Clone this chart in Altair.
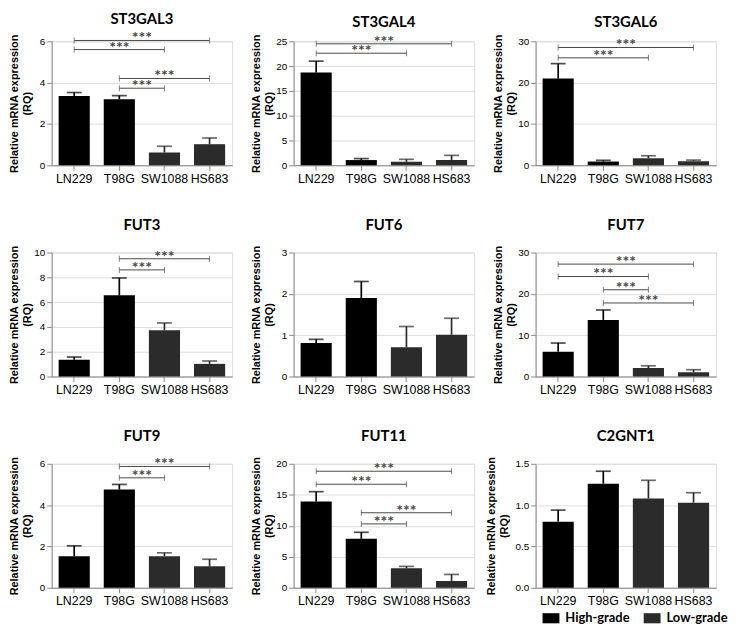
import altair as alt
import pandas as pd

CELL_LINES = ["LN229", "T98G", "SW1088", "HS683"]
GRADES = ["High-grade", "High-grade", "Low-grade", "Low-grade"]
GENES = ["ST3GAL3", "ST3GAL4", "ST3GAL6", "FUT3", "FUT6", "FUT7", "FUT9", "FUT11", "C2GNT1"]

# mean relative expression (RQ) and upper error (SEM) per cell line
ST3GAL3_MEAN = [3.35, 3.2, 0.62, 1.02]
ST3GAL3_ERR = [0.17, 0.17, 0.3, 0.3]
ST3GAL4_MEAN = [18.7, 1.05, 0.7, 1.05]
ST3GAL4_ERR = [2.3, 0.3, 0.5, 0.95]
ST3GAL6_MEAN = [21.0, 0.9, 1.7, 1.0]
ST3GAL6_ERR = [3.6, 0.3, 0.6, 0.25]
FUT3_MEAN = [1.35, 6.55, 3.73, 1.02]
FUT3_ERR = [0.22, 1.4, 0.59, 0.23]
FUT6_MEAN = [0.81, 1.9, 0.71, 1.01]
FUT6_ERR = [0.09, 0.4, 0.5, 0.4]
FUT7_MEAN = [6.0, 13.7, 2.05, 1.05]
FUT7_ERR = [2.1, 2.4, 0.55, 0.6]
FUT9_MEAN = [1.53, 4.75, 1.53, 1.04]
FUT9_ERR = [0.5, 0.25, 0.16, 0.34]
FUT11_MEAN = [13.9, 7.9, 3.15, 1.1]
FUT11_ERR = [1.6, 1.05, 0.3, 1.05]
C2GNT1_MEAN = [0.8, 1.26, 1.08, 1.03]
C2GNT1_ERR = [0.14, 0.15, 0.22, 0.12]

Y_MAX = [6, 25, 30, 10, 3, 30, 6, 20, 1.5]
Y_TICKS = [
    [0, 2, 4, 6],
    [0, 5, 10, 15, 20, 25],
    [0, 10, 20, 30],
    [0, 2, 4, 6, 8, 10],
    [0, 1, 2, 3],
    [0, 10, 20, 30],
    [0, 2, 4, 6],
    [0, 5, 10, 15, 20],
    [0, 0.5, 1.0, 1.5],
]
Y_FORMAT = ["d", "d", "d", "d", "d", "d", "d", "d", ".1f"]

# significance brackets: (from, to, height)
ST3GAL3_SIG = [("LN229", "HS683", 6.04), ("LN229", "SW1088", 5.6), ("T98G", "HS683", 4.2), ("T98G", "SW1088", 3.73)]
ST3GAL4_SIG = [("LN229", "HS683", 24.5), ("LN229", "SW1088", 22.6)]
ST3GAL6_SIG = [("LN229", "HS683", 28.5), ("LN229", "SW1088", 26.0)]
FUT3_SIG = [("T98G", "HS683", 9.5), ("T98G", "SW1088", 8.6)]
FUT6_SIG = []
FUT7_SIG = [("LN229", "HS683", 27.2), ("LN229", "SW1088", 24.2), ("T98G", "SW1088", 21.0), ("T98G", "HS683", 17.8)]
FUT9_SIG = [("T98G", "HS683", 5.87), ("T98G", "SW1088", 5.32)]
FUT11_SIG = [("LN229", "HS683", 18.8), ("LN229", "SW1088", 16.7), ("T98G", "HS683", 12.1), ("T98G", "SW1088", 10.3)]
C2GNT1_SIG = []

MEANS = [ST3GAL3_MEAN, ST3GAL4_MEAN, ST3GAL6_MEAN, FUT3_MEAN, FUT6_MEAN, FUT7_MEAN, FUT9_MEAN, FUT11_MEAN, C2GNT1_MEAN]
ERRS = [ST3GAL3_ERR, ST3GAL4_ERR, ST3GAL6_ERR, FUT3_ERR, FUT6_ERR, FUT7_ERR, FUT9_ERR, FUT11_ERR, C2GNT1_ERR]
SIGS = [ST3GAL3_SIG, ST3GAL4_SIG, ST3GAL6_SIG, FUT3_SIG, FUT6_SIG, FUT7_SIG, FUT9_SIG, FUT11_SIG, C2GNT1_SIG]

FONT = "Lato"
TICK_FONT = "Liberation Sans"
HIGH = "#000000"
LOW = "#2b2b2b"
BR_COLOR = "#4a4a4a"
W, H = 182, 125
RECT = "M-1,-0.6H1V0.6H-1Z"


def panel(i):
    gene = GENES[i]
    df = pd.DataFrame({
        "cell": CELL_LINES,
        "grade": GRADES,
        "mean": MEANS[i],
        "top": [m + e for m, e in zip(MEANS[i], ERRS[i])],
    })
    yscale = alt.Scale(domain=[0, Y_MAX[i]], nice=False, zero=True)
    title_x = -39 if "." in Y_FORMAT[i] else -32
    yaxis = alt.Axis(values=Y_TICKS[i], format=Y_FORMAT[i], titleX=title_x,
                     title=["Relative mRNA expression", "(RQ)"])
    bscale = alt.Scale(paddingInner=0.31, paddingOuter=0.155)
    xband = alt.X("cell:N", sort=CELL_LINES, scale=bscale,
                  axis=alt.Axis(title=None, labelAngle=0, labelFontSize=12.5))
    xband_noaxis = alt.X("cell:N", sort=CELL_LINES, scale=bscale, axis=None)
    show_legend = (i == len(GENES) - 1)
    cscale = alt.Scale(domain=["High-grade", "Low-grade"], range=[HIGH, LOW])
    if show_legend:
        leg = alt.Legend(title=None, orient="none", legendX=7, legendY=147,
                         direction="horizontal", symbolType=RECT,
                         symbolSize=289, symbolStrokeWidth=0, labelFontSize=13,
                         labelFont=FONT, labelFontWeight="bold", columnPadding=14,
                         labelOffset=6, labelColor="black")
    else:
        leg = None
    bars = alt.Chart(df).mark_bar().encode(
        x=xband,
        y=alt.Y("mean:Q", scale=yscale, axis=yaxis),
        color=alt.Color("grade:N", scale=cscale, legend=leg),
    )
    err = alt.Chart(df).mark_rule(strokeWidth=1.7).encode(
        x=xband_noaxis,
        y=alt.Y("mean:Q", scale=yscale, axis=yaxis),
        y2="top:Q",
        color=alt.Color("grade:N", scale=cscale, legend=None),
    )
    cap = alt.Chart(df).mark_tick(size=15, thickness=1.7).encode(
        x=xband_noaxis,
        y=alt.Y("top:Q", scale=yscale, axis=yaxis),
        color=alt.Color("grade:N", scale=cscale, legend=None),
    )
    layers = [bars, err, cap]
    sig = SIGS[i]
    if sig:
        bdf = pd.DataFrame({
            "x1": [CELL_LINES.index(a) + 0.5 for a, b, y in sig],
            "x2": [CELL_LINES.index(b) + 0.5 for a, b, y in sig],
            "y": [y for a, b, y in sig],
        })
        bdf["mid"] = (bdf["x1"] + bdf["x2"]) / 2
        ends = pd.DataFrame({
            "xe": list(bdf["x1"]) + list(bdf["x2"]),
            "y": list(bdf["y"]) + list(bdf["y"]),
        })
        xq = alt.Scale(domain=[0, 4], nice=False, zero=False)
        line = alt.Chart(bdf).mark_rule(color=BR_COLOR, strokeWidth=1).encode(
            x=alt.X("x1:Q", scale=xq, axis=None), x2="x2:Q",
            y=alt.Y("y:Q", scale=yscale, axis=yaxis),
        )
        endt = alt.Chart(ends).mark_tick(orient="vertical", size=6, thickness=1,
                                         color=BR_COLOR).encode(
            x=alt.X("xe:Q", scale=xq, axis=None),
            y=alt.Y("y:Q", scale=yscale, axis=yaxis),
        )
        txt = alt.Chart(bdf).mark_text(text="***", font=FONT, fontSize=16,
                                       fontWeight="bold", color=BR_COLOR,
                                       baseline="alphabetic", dy=3).encode(
            x=alt.X("mid:Q", scale=xq, axis=None),
            y=alt.Y("y:Q", scale=yscale, axis=yaxis),
        )
        layers += [line, endt, txt]
    title_offset = 4 if i < 3 else 12
    ch = alt.layer(*layers).resolve_scale(x="independent").properties(
        width=W, height=H,
        title=alt.TitleParams(gene, font=FONT, fontSize=15, fontWeight="bold",
                              anchor="middle", frame="group", offset=title_offset,
                              color="black"),
    )
    return ch


chart = alt.concat(*[panel(i) for i in range(len(GENES))], columns=3,
                   bounds="flush",
                   spacing={"row": 88, "column": 62}).resolve_scale(
    color="independent"
).configure_axis(
    labelFont=TICK_FONT, labelFontWeight="bold", labelFontSize=12, labelColor="black",
    titleFont=FONT, titleFontWeight="bold", titleFontSize=11.5, titleColor="black",
    titleLineHeight=13, titlePadding=3, labelPadding=2,
    domainColor="black", domainWidth=1.3, tickColor="black", tickWidth=1.3,
    tickSize=4, grid=False,
).configure_view(stroke=None).configure(background="white", padding=0)

chart.save("out.html", embed_options={"renderer": "svg", "actions": False})
